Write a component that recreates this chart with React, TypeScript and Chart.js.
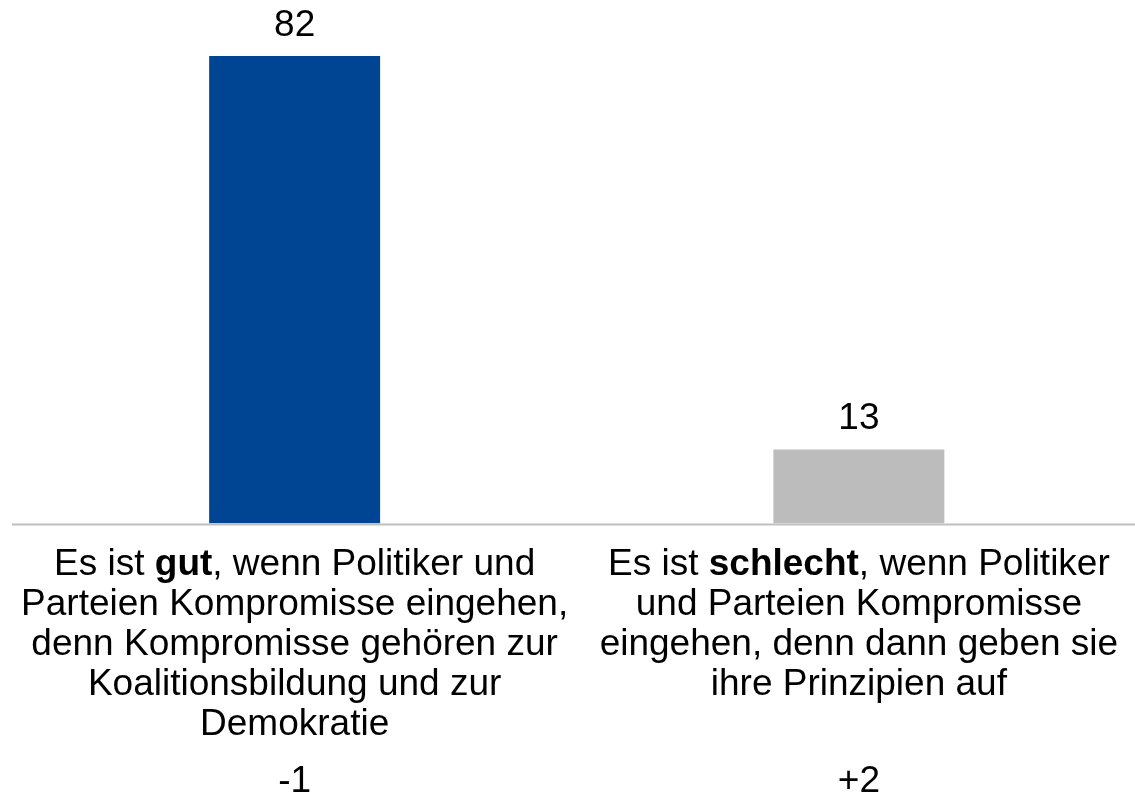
import React, { useEffect, useRef } from "react";
import { Chart, registerables } from "chart.js";

Chart.register(...registerables);

const categoryLines: string[][] = [
  [
    "Es ist **gut**, wenn Politiker und",
    "Parteien Kompromisse eingehen,",
    "denn Kompromisse gehören zur",
    "Koalitionsbildung und zur",
    "Demokratie",
  ],
  [
    "Es ist **schlecht**, wenn Politiker",
    "und Parteien Kompromisse",
    "eingehen, denn dann geben sie",
    "ihre Prinzipien auf",
  ],
];
const values = [82, 13];
const changes = ["-1", "+2"];
const barColors = ["#004494", "#BCBCBC"];

const FONT = '"Liberation Sans", Arial, sans-serif';
const FS = 37;

function drawRich(ctx: CanvasRenderingContext2D, line: string, cx: number, y: number) {
  const parts = line.split("**");
  const segs = parts.map((t, i) => ({ t, bold: i % 2 === 1 })).filter((s) => s.t.length);
  let total = 0;
  const widths = segs.map((s) => {
    ctx.font = `${s.bold ? "bold " : ""}${FS}px ${FONT}`;
    const w = ctx.measureText(s.t).width;
    total += w;
    return w;
  });
  let x = cx - total / 2;
  ctx.textAlign = "left";
  segs.forEach((s, i) => {
    ctx.font = `${s.bold ? "bold " : ""}${FS}px ${FONT}`;
    ctx.fillText(s.t, x, y);
    x += widths[i];
  });
}

const labelPlugin = {
  id: "richLabels",
  afterDraw(chart: any) {
    const ctx: CanvasRenderingContext2D = chart.ctx;
    const xs = chart.scales.x;
    const ys = chart.scales.y;
    const zeroY = ys.getPixelForValue(0);
    ctx.save();
    ctx.strokeStyle = "#BFBFBF";
    ctx.lineWidth = 2;
    ctx.beginPath();
    ctx.moveTo(12, zeroY + 1);
    ctx.lineTo(chart.width, zeroY + 1);
    ctx.stroke();

    ctx.fillStyle = "#000000";
    ctx.textBaseline = "alphabetic";
    const meta = chart.getDatasetMeta(0);
    meta.data.forEach((bar: any, i: number) => {
      ctx.font = `${FS}px ${FONT}`;
      ctx.textAlign = "center";
      ctx.fillText(String(values[i]), bar.x, bar.y - 20);
      const cx = xs.getPixelForValue(i);
      categoryLines[i].forEach((line, j) => {
        drawRich(ctx, line, cx, zeroY + 51.5 + j * 40);
      });
      ctx.font = `${FS}px ${FONT}`;
      ctx.textAlign = "center";
      ctx.fillText(changes[i], cx, zeroY + 268);
    });
    ctx.restore();
  },
};

export default function App() {
  const ref = useRef<HTMLCanvasElement | null>(null);
  useEffect(() => {
    if (!ref.current) return;
    const chart = new Chart(ref.current, {
      type: "bar",
      data: {
        labels: categoryLines.map((l) => l.join(" ").replace(/\*\*/g, "")),
        datasets: [
          {
            data: values,
            backgroundColor: barColors,
            borderWidth: 0,
            barPercentage: 0.303,
            categoryPercentage: 1,
          },
        ],
      },
      options: {
        responsive: false,
        animation: false,
        layout: { padding: { top: 10.5, bottom: 269.5, left: 12.5, right: 0 } },
        plugins: { legend: { display: false }, tooltip: { enabled: false } },
        scales: {
          x: { display: false },
          y: { display: false, min: 0, max: 90 },
        },
      },
      plugins: [labelPlugin],
    });
    return () => chart.destroy();
  }, []);
  return (
    <div
      style={{
        position: "absolute",
        left: 0,
        top: 0,
        width: 1135,
        height: 793,
        overflow: "hidden",
        background: "#fff",
      }}
    >
      <canvas ref={ref} width={1141} height={793} style={{ display: "block" }} />
    </div>
  );
}
